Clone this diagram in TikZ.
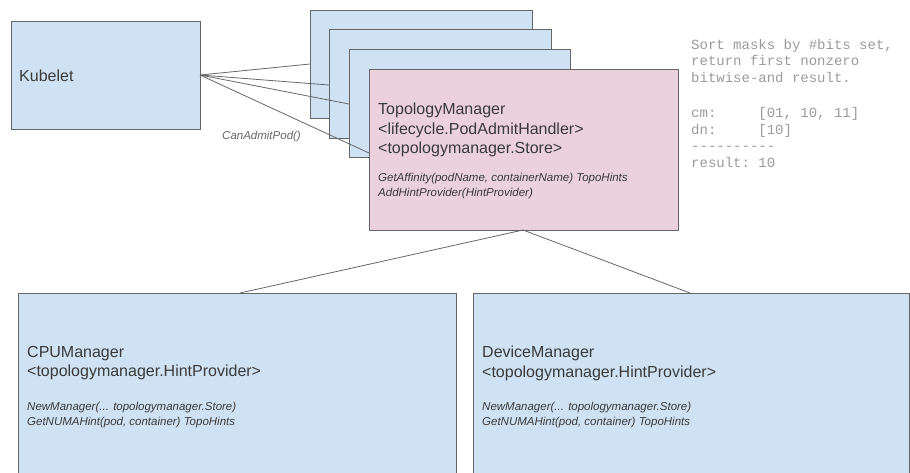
\documentclass[tikz,border=0pt]{standalone}
\usepackage{fontspec}
\setmainfont{Liberation Sans}
\setmonofont{Liberation Mono}
\definecolor{boxblue}{HTML}{CFE2F3}
\definecolor{boxpink}{HTML}{EAD1DC}
\definecolor{edgegray}{HTML}{666666}
\definecolor{txt}{HTML}{3A3A3A}
\definecolor{monogray}{HTML}{9A9A9A}
\tikzset{
  blk/.style={draw=edgegray, line width=0.9pt, fill=boxblue},
  pnk/.style={draw=edgegray, line width=0.9pt, fill=boxpink},
  conn/.style={draw=edgegray, line width=0.8pt},
  big/.style={inner sep=0pt, anchor=north west, align=left, text=txt, font=\fontsize{16}{19.5}\selectfont},
  sml/.style={inner sep=0pt, anchor=north west, align=left, text=txt, font=\fontsize{11.5}{15}\selectfont\itshape},
  mono/.style={inner sep=0pt, anchor=north west, align=left, text=monogray, font=\fontsize{14}{16.6}\selectfont\ttfamily},
}
\begin{document}
\begin{tikzpicture}[x=1pt, y=-1pt]
\useasboundingbox (0,0) rectangle (910,472);
\clip (0,0) rectangle (910,472);
% Kubelet
\path[blk] (11,21) rectangle (200,129);
\coordinate (kub) at (200,75);
% stacked boxes
\path[blk] (310,10) rectangle (532,118);
\path[blk] (329,29) rectangle (551,138);
\path[blk] (349,49) rectangle (570,157);
\path[pnk] (369,69) rectangle (678,230);
\coordinate (s1) at (310,64);
\coordinate (s2) at (329,85);
\coordinate (s3) at (349,104);
\coordinate (s4) at (369,153);
\draw[conn] (kub) -- (s1);
\draw[conn] (kub) -- (s2);
\draw[conn] (kub) -- (s3);
\draw[conn] (kub) -- (s4);
% bottom boxes
\path[blk] (18,293) rectangle (456,490);
\path[blk] (473,293) rectangle (909,490);
\coordinate (tmb) at (523,230);
\coordinate (cput) at (240,293);
\coordinate (devt) at (690,293);
\draw[conn] (tmb) -- (cput);
\draw[conn] (tmb) -- (devt);
% texts
\node[big] (kubt) at (19,70) {Kubelet};
\node[sml, text=edgegray] (can) at (222,131) {CanAdmitPod()};
\node[big] (tmt) at (378,103) {TopologyManager\\<lifecycle.PodAdmitHandler>\\<topologymanager.Store>};
\node[sml] (tmm) at (378,173) {GetAffinity(podName, containerName) TopoHints\\AddHintProvider(HintProvider)};
\node[mono] (note) at (691,39) {Sort masks by \#bits set,\\return first nonzero\\bitwise-and result.\\[18.5pt]cm:\ \ \ \ \ [01, 10, 11]\\dn:\ \ \ \ \ [10]\\----------\\result: 10};
\node[big] (cpuname) at (27,346) {CPUManager\\<topologymanager.HintProvider>};
\node[sml] (cpum) at (27,402) {NewManager(... topologymanager.Store)\\GetNUMAHint(pod, container) TopoHints};
\node[big] (devname) at (482,346) {DeviceManager\\<topologymanager.HintProvider>};
\node[sml] (devm) at (482,402) {NewManager(... topologymanager.Store)\\GetNUMAHint(pod, container) TopoHints};
\end{tikzpicture}
\end{document}
